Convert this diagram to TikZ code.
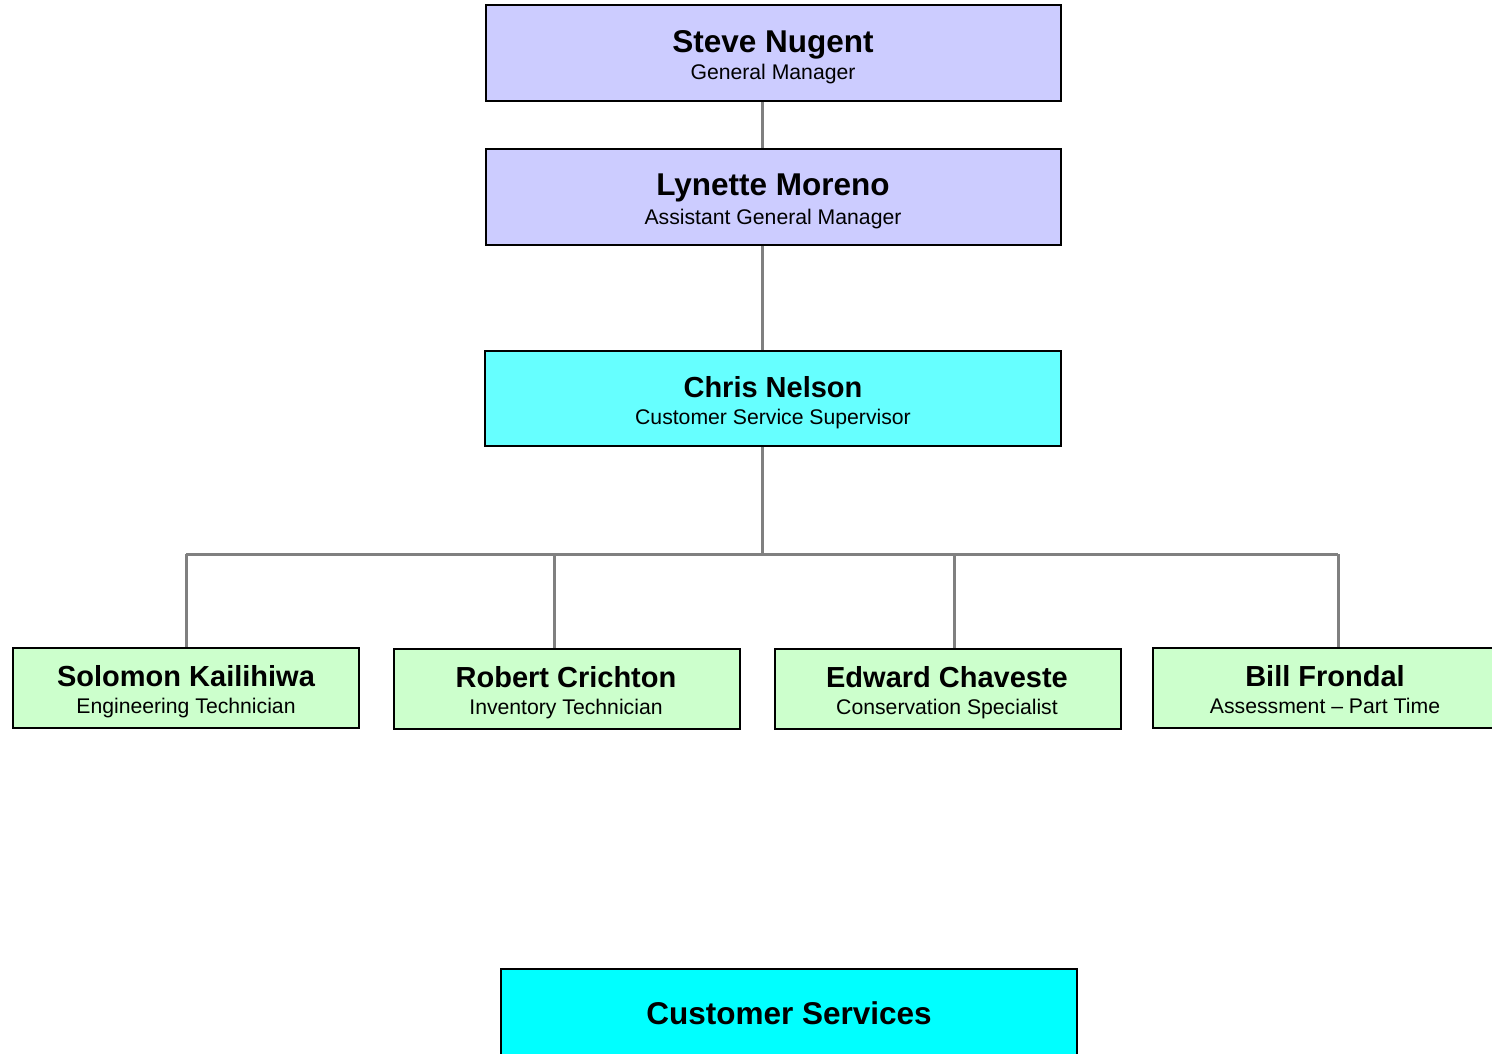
\documentclass[tikz,border=0pt]{standalone}
\usepackage{fontspec}
\setmainfont{Liberation Sans}
\definecolor{lav}{HTML}{CCCCFF}
\definecolor{aqua}{HTML}{66FFFF}
\definecolor{mint}{HTML}{CCFFCC}
\definecolor{cyanbox}{HTML}{00FFFF}
\definecolor{linegray}{HTML}{808080}
\tikzset{
  orgbox/.style={draw=black, line width=1.8pt, inner sep=0pt},
  bigbox/.style={orgbox, minimum width=575pt, minimum height=96pt},
  smallbox/.style={orgbox, minimum width=346pt, minimum height=80pt},
  bigname/.style={anchor=base, inner sep=0pt, font=\fontsize{31.5}{36}\selectfont\bfseries},
  midname/.style={anchor=base, inner sep=0pt, font=\fontsize{29}{34}\selectfont\bfseries},
  role/.style={anchor=base, inner sep=0pt, font=\fontsize{21.2}{25}\selectfont},
  conn/.style={draw=linegray, line width=3pt}
}
\begin{document}
\begin{tikzpicture}[x=1pt,y=-1pt]
\useasboundingbox (0,0) rectangle (1492,1054);
\clip (0,0) rectangle (1492,1054);
% boxes
\node[bigbox, fill=lav] (steve) at (773.5,53) {};
\node[bigbox, fill=lav] (lynette) at (773.5,197) {};
\node[bigbox, fill=aqua, minimum width=576pt, minimum height=95pt] (chris) at (773,398.5) {};
\node[smallbox, fill=mint] (solomon) at (186,688) {};
\node[smallbox, fill=mint] (robert) at (567,689) {};
\node[smallbox, fill=mint] (edward) at (948,689) {};
\node[smallbox, fill=mint] (bill) at (1326,688) {};
\node[bigbox, fill=cyanbox, minimum width=576pt] (cs) at (789,1017) {};
% junction coordinates
\coordinate (hub) at (762,554);
\coordinate (b1) at (186,554);
\coordinate (b2) at (554,554);
\coordinate (b3) at (954,554);
\coordinate (b4) at (1338,554);
% connectors
\begin{scope}[on background layer/.style={}]
\draw[conn] (steve.south -| hub) -- (lynette.north -| hub);
\draw[conn] (lynette.south -| hub) -- (chris.north -| hub);
\draw[conn] (chris.south -| hub) -- (hub);
\draw[conn] (b1) -- (b4);
\draw[conn] (b1) -- (b1 |- solomon.north);
\draw[conn] (b2) -- (b2 |- robert.north);
\draw[conn] (b3) -- (b3 |- edward.north);
\draw[conn] (b4) -- (b4 |- bill.north);
\end{scope}
% texts
\node[bigname] (t1) at (773,53) {Steve Nugent};
\node[role] (r1) at (773,80) {General Manager};
\node[bigname] (t2) at (773,196) {Lynette Moreno};
\node[role] (r2) at (773,224) {Assistant General Manager};
\node[midname] (t3) at (773,397) {Chris Nelson};
\node[role] (r3) at (773,424) {Customer Service Supervisor};
\node[midname] (t4) at (186,686) {Solomon Kailihiwa};
\node[role] (r4) at (186,713) {Engineering Technician};
\node[midname] (t5) at (566,687) {Robert Crichton};
\node[role] (r5) at (566,714) {Inventory Technician};
\node[midname] (t6) at (947,687) {Edward Chaveste};
\node[role] (r6) at (947,714) {Conservation Specialist};
\node[midname] (t7) at (1325,686) {Bill Frondal};
\node[role] (r7) at (1325,713) {Assessment -- Part Time};
\node[bigname] (t8) at (789,1024) {Customer Services};
\end{tikzpicture}
\end{document}
